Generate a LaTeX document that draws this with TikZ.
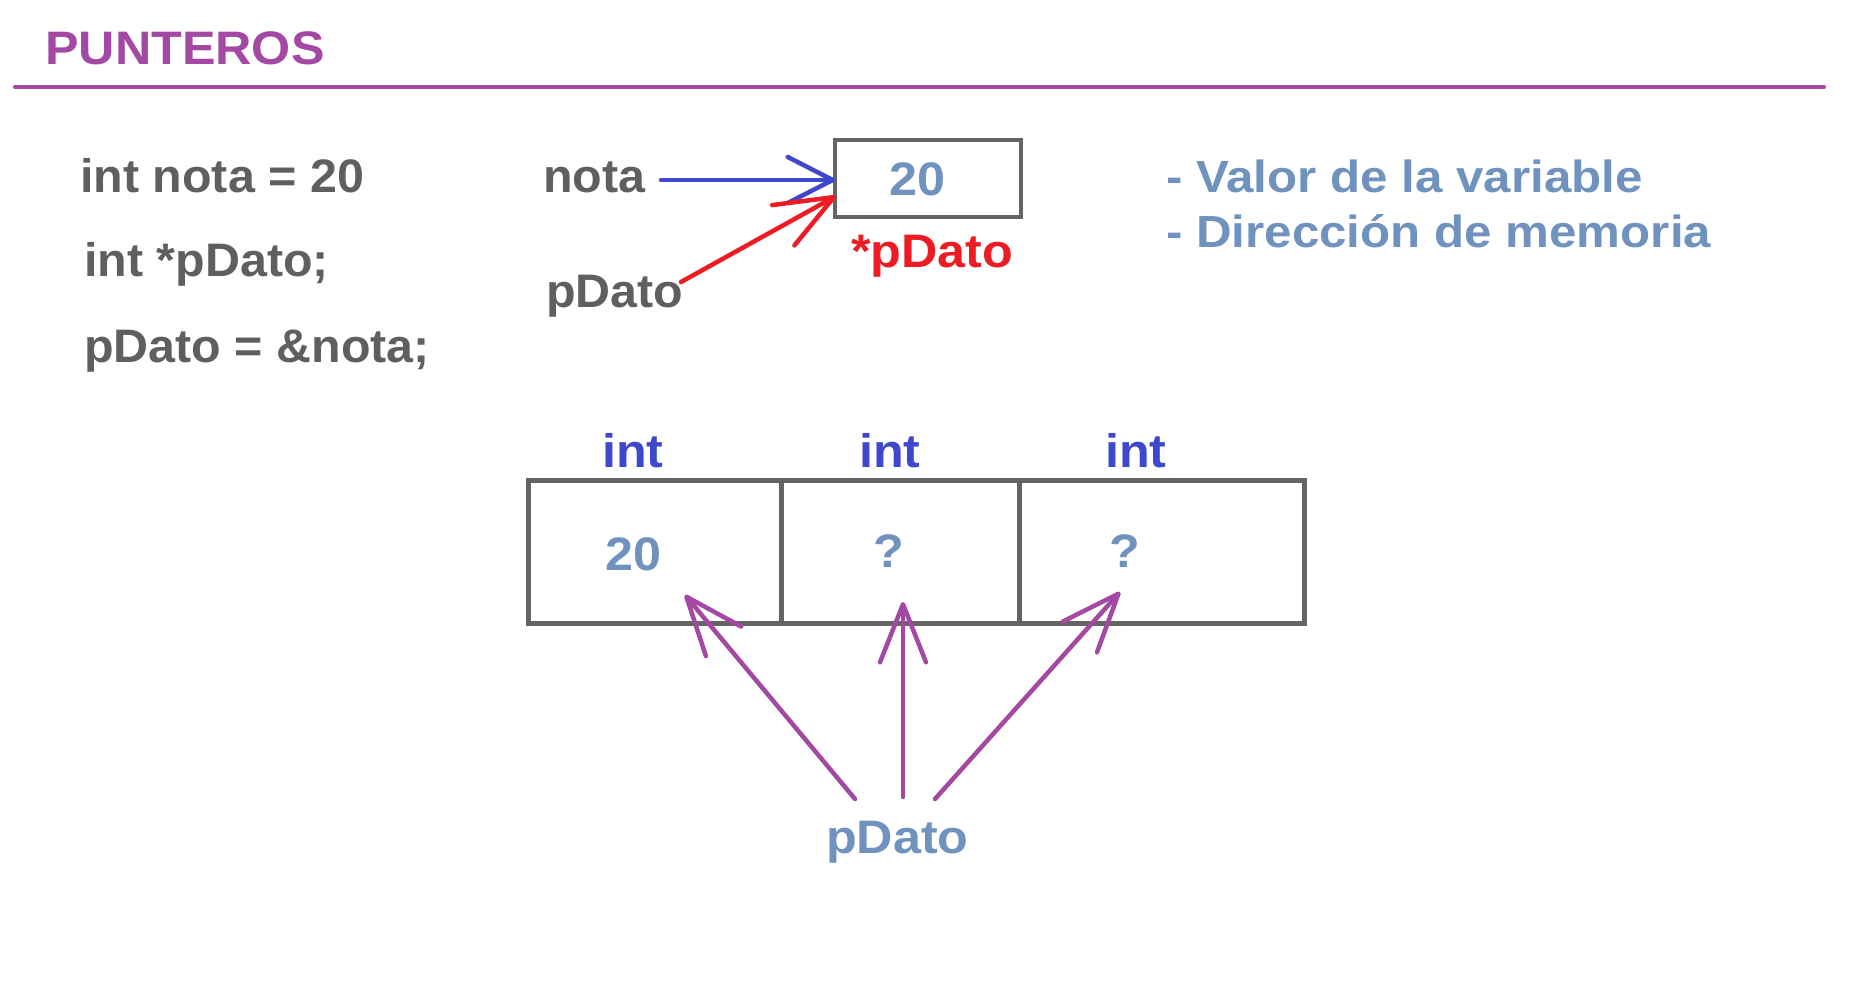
\documentclass[tikz,border=0pt]{standalone}
\usepackage{fontspec}
\setmainfont{Liberation Sans}
\newfontfamily\widefont{Liberation Sans}[FakeStretch=1.07]
\newfontfamily\codefont{Liberation Sans}[FakeStretch=1.03]
\newfontfamily\notefont{Liberation Sans}[FakeStretch=1.095]
\usetikzlibrary{arrows.meta}
\definecolor{ptitle}{HTML}{A349A4}
\definecolor{pgray}{HTML}{5F5F5F}
\definecolor{pbox}{HTML}{646464}
\definecolor{pblue}{HTML}{3F48CC}
\definecolor{pred}{HTML}{ED1C24}
\definecolor{plight}{HTML}{7092BE}
\begin{document}
\begin{tikzpicture}[x=1pt,y=-1pt,
  txt/.style={inner sep=0pt, anchor=base west, font=\codefont\bfseries\fontsize{47}{56}\selectfont},
  wtxt/.style={inner sep=0pt, anchor=base west, font=\widefont\bfseries\fontsize{47}{56}\selectfont},
  rtxt/.style={inner sep=0pt, anchor=base west, font=\notefont\bfseries\fontsize{45}{54}\selectfont, text=plight},
  cell/.style={draw=pbox, line width=5pt, inner sep=0pt},
  barb/.style={-{Straight Barb[length=#1, width=46pt, round]}, line width=4.5pt, line cap=round},
]
\useasboundingbox[fill=white] (0,0) rectangle (1861,981);

% title and rule
\node[wtxt, text=ptitle] (title) at (45,65) {PUNTEROS};
\coordinate (ruleL) at (15,87);
\coordinate (ruleR) at (1824,87);
\draw[ptitle, line width=4pt, line cap=round] (ruleL) -- (ruleR);

% code
\node[txt, text=pgray] (code1) at (80,193) {int nota = 20};
\node[txt, text=pgray] (code2) at (84,277) {int *pDato;};
\node[txt, text=pgray] (code3) at (84,363) {pDato = \&nota;};

% top diagram
\node[txt, text=pgray] (lblnota) at (543,193) {nota};
\node[txt, text=pgray] (lblp) at (546,308) {pDato};
\node[draw=pbox, line width=4pt, minimum width=186pt, minimum height=77pt, inner sep=0pt] (box) at (928,178.5) {};
\node[wtxt, text=plight] (val) at (889,196) {20};
\node[wtxt, text=pred] (star) at (851,268) {*pDato};

\coordinate (nstart) at (661,180);
\coordinate (ntip) at (835,180);
\draw[pblue, barb=45pt] (nstart) -- (ntip);
\coordinate (pstart) at (681,282);
\coordinate (ptip) at (836,196);
\draw[pred, barb=58pt] (pstart) -- (ptip);

% right notes
\node[rtxt] (note1) at (1166,193) {- Valor de la variable};
\node[rtxt] (note2) at (1166,248) {- Dirección de memoria};

% array
\node[cell, minimum width=253pt, minimum height=143pt] (c1) at (654.5,551.5) {};
\node[cell, minimum width=238pt, minimum height=143pt] (c2) at (900,551.5) {};
\node[cell, minimum width=285pt, minimum height=143pt] (c3) at (1161.5,551.5) {};

\node[wtxt, text=pblue] (t1) at (602,467) {int};
\node[wtxt, text=pblue] (t2) at (859,467) {int};
\node[wtxt, text=pblue] (t3) at (1105,467) {int};

\node[wtxt, text=plight] (v1) at (605,570) {20};
\node[wtxt, text=plight] (v2) at (873,567) {?};
\node[wtxt, text=plight] (v3) at (1109,567) {?};

\node[wtxt, text=plight] (pbot) at (826,853) {pDato};

\coordinate (aLs) at (855,799);
\coordinate (aLt) at (685,595);
\coordinate (aMs) at (903,797);
\coordinate (aMt) at (903,602);
\coordinate (aRs) at (935,799);
\coordinate (aRt) at (1120,592);
\draw[ptitle, barb=58pt] (aLs) -- (aLt);
\draw[ptitle, barb=58pt] (aMs) -- (aMt);
\draw[ptitle, barb=58pt] (aRs) -- (aRt);
\end{tikzpicture}
\end{document}
